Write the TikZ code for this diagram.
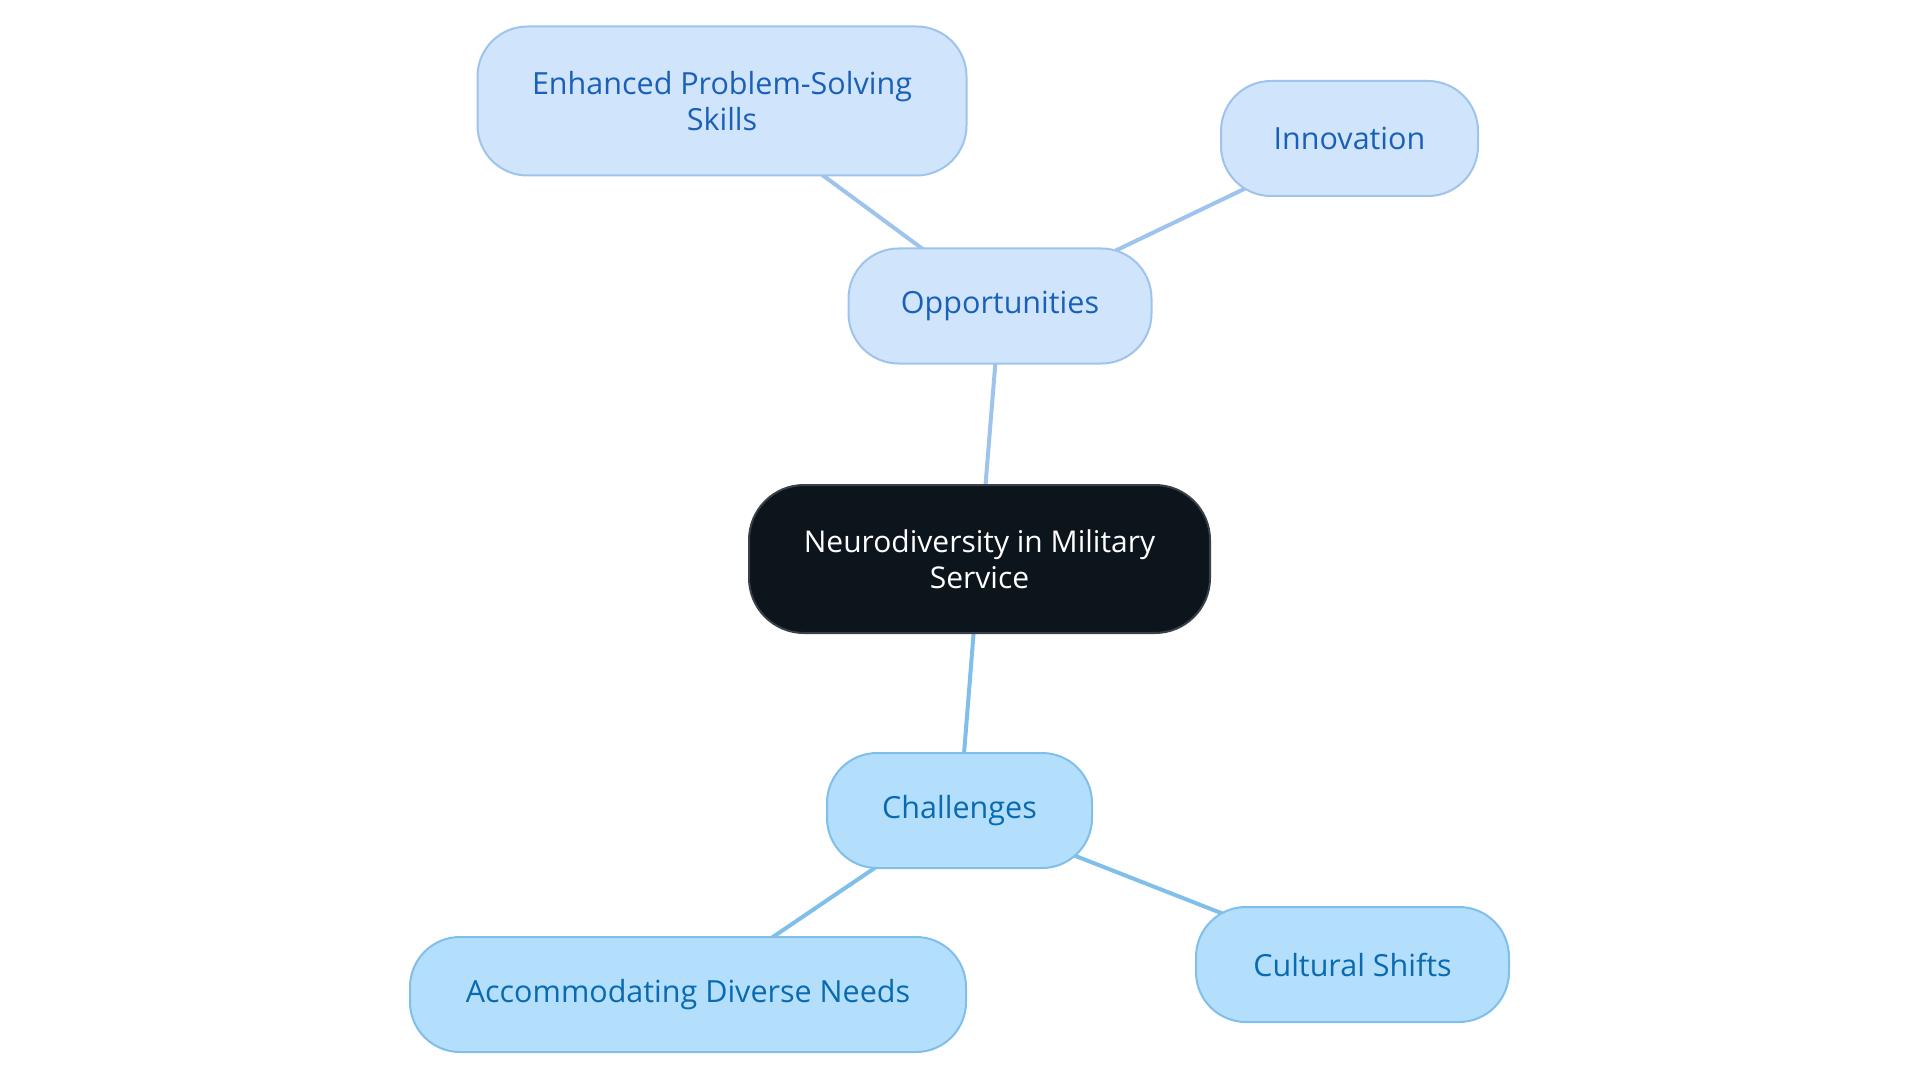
\documentclass[tikz,border=0pt]{standalone}
\usepackage{fontspec}
\setmainfont{Open Sans}
\usetikzlibrary{backgrounds}
\definecolor{oppfill}{HTML}{D0E5FB}
\definecolor{oppdraw}{HTML}{9EC3EC}
\definecolor{opptext}{HTML}{1A60B8}
\definecolor{chalfill}{HTML}{B3DFFC}
\definecolor{chaldraw}{HTML}{7FBFEA}
\definecolor{chaltext}{HTML}{0A6AB0}
\definecolor{rootfill}{HTML}{0C141C}
\definecolor{rootdraw}{HTML}{3A4048}
\tikzset{
  box/.style={rectangle, rounded corners=50pt, line width=2pt, align=center,
    font=\fontsize{30.5}{35.5}\selectfont, inner sep=0pt},
  rootbox/.style={box, fill=rootfill, draw=rootdraw, text=white, rounded corners=55pt,
    font=\fontsize{30}{35.5}\selectfont},
  oppbox/.style={box, fill=oppfill, draw=oppdraw, text=opptext},
  chalbox/.style={box, fill=chalfill, draw=chaldraw, text=chaltext},
  oppedge/.style={draw=oppdraw, line width=4pt},
  chaledge/.style={draw=chaldraw, line width=4pt}
}
\begin{document}
\begin{tikzpicture}[x=1pt,y=-1pt]
\useasboundingbox (0,0) rectangle (1920,1083);
\node[rootbox, minimum width=461pt, minimum height=148pt] (root) at (979.5,559) {Neurodiversity in Military\\Service};
\node[oppbox, minimum width=303pt, minimum height=115pt] (opp) at (1000,306) {Opportunities};
\node[oppbox, minimum width=489pt, minimum height=149pt] (enh) at (722,101) {Enhanced Problem-Solving\\Skills};
\node[oppbox, minimum width=257pt, minimum height=115pt] (inn) at (1349.5,138.5) {Innovation};
\node[chalbox, minimum width=265pt, minimum height=115pt] (chal) at (959.5,810.5) {Challenges};
\node[chalbox, minimum width=556pt, minimum height=115pt] (acc) at (688,994.5) {Accommodating Diverse Needs};
\node[chalbox, minimum width=313pt, minimum height=115pt] (cul) at (1352.5,964.5) {Cultural Shifts};
\begin{scope}[on background layer]
\draw[oppedge] (root.center) -- (opp.center);
\draw[oppedge] (opp.center) -- (enh.center);
\draw[oppedge] (opp.center) -- (inn.center);
\draw[chaledge] (root.center) -- (chal.center);
\draw[chaledge] (chal.center) -- (acc.center);
\draw[chaledge] (chal.center) -- (cul.center);
\end{scope}
\end{tikzpicture}
\end{document}
